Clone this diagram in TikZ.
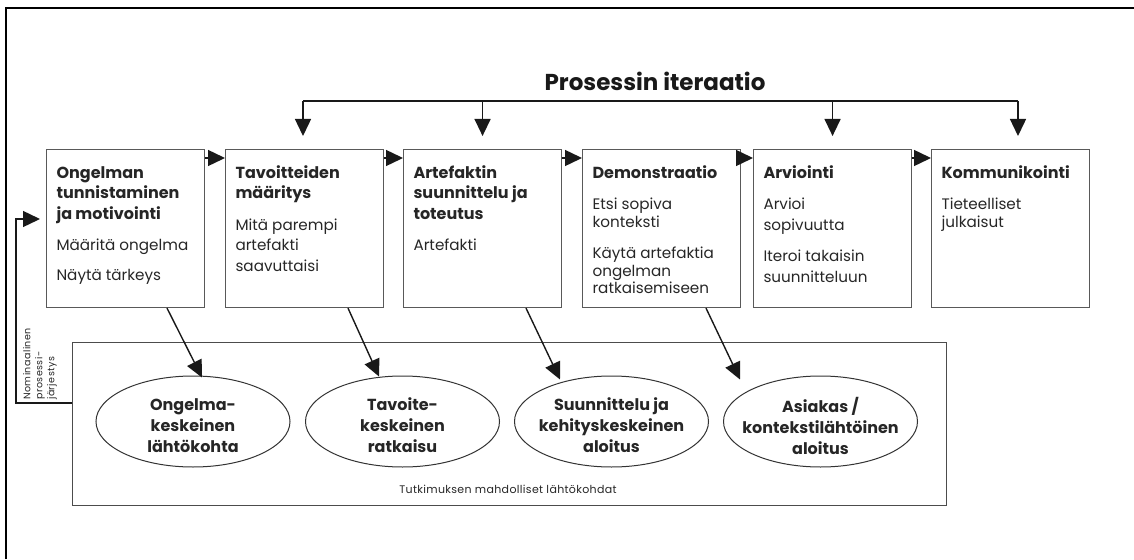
\documentclass[tikz,border=0pt]{standalone}
\usepackage{fontspec}
\setmainfont{Poppins}
\usetikzlibrary{arrows.meta,shapes.geometric,calc}
\newcommand\stgtext[1]{\parbox[t][150pt][t]{138pt}{\raggedright\rule{0pt}{24.5pt}#1}}
\newcommand\hd[1]{{\fontsize{16}{20.5}\selectfont\bfseries #1}}
\tikzset{
  stage/.style={draw=black!65, line width=1.1pt, anchor=north west, inner xsep=10pt, inner ysep=4pt,
    font=\fontsize{15.2}{20.5}\selectfont, text=black!85},
  startpt/.style={ellipse, draw=black!80, line width=1pt, minimum width=194pt, minimum height=91pt, inner sep=0pt},
  starttext/.style={align=center, inner sep=0pt, font=\fontsize{16}{21}\selectfont\bfseries, text=black!85},
  tip/.style={-{Triangle[length=17pt,width=16pt]}, line width=1.4pt, draw=black!90},
  plain/.style={line width=1.4pt, draw=black!90},
}
\begin{document}
\begin{tikzpicture}[x=1pt,y=-1pt]
\useasboundingbox (0,0) rectangle (1134,559);
% outer frame (top and left edges)
\draw[line width=1.8pt] (6,559) -- (6,8) -- (1134,8);

% title
\node[font=\fontsize{23}{26}\selectfont\bfseries, text=black!90] (title) at (655,81) {Prosessin iteraatio};

% stage boxes
\node[stage] (b1) at (46,149) {\stgtext{\hd{Ongelman\\tunnistaminen\\ja motivointi}\\[11pt]Määritä ongelma\\[9.5pt]Näytä tärkeys}};
\node[stage] (b2) at (225,149) {\stgtext{\hd{Tavoitteiden\\määritys}\\[11pt]Mitä parempi\\artefakti\\saavuttaisi}};
\node[stage] (b3) at (403,149) {\stgtext{\hd{Artefaktin\\suunnittelu ja\\toteutus}\\[11pt]Artefakti}};
\node[stage] (b4) at (582,149) {\stgtext{\hd{Demonstraatio}\\[11pt]Etsi sopiva\\[-3pt]konteksti\\[11pt]Käytä artefaktia\\[-3pt]ongelman\\[-3pt]ratkaisemiseen}};
\node[stage] (b5) at (753,149) {\stgtext{\hd{Arviointi}\\[11pt]Arvioi\\sopivuutta\\[11pt]Iteroi takaisin\\suunnitteluun}};
\node[stage] (b6) at (931,149) {\stgtext{\hd{Kommunikointi}\\[11pt]Tieteelliset\\[-2.5pt]julkaisut}};

% arrows between stages
\foreach \a/\b in {b1/b2,b2/b3,b3/b4,b4/b5,b5/b6}
  \draw[tip] ([yshift=-9pt]\a.north east) -- ([yshift=-9pt]\b.north west);

% iteration bar
\coordinate (itL) at (303,101);
\coordinate (itR) at (1018,101);
\draw[plain] (itL) -- (itR);
\draw[tip, shorten >=13pt] (itL) -- (itL |- b2.north);
\draw[tip, shorten >=13pt] (b3.north |- itL) -- (b3.north);
\draw[tip, shorten >=13pt] (b5.north |- itL) -- (b5.north);
\draw[tip, shorten >=13pt] (itR) -- (itR |- b6.north);

% starting points frame
\node[draw=black!70, line width=1.1pt, anchor=north west, minimum width=874pt, minimum height=163pt, inner sep=0pt] (frame) at (72,342) {};
\node[font=\fontsize{11}{13}\selectfont\addfontfeatures{LetterSpace=3}, text=black!85] (caption) at (508,489) {Tutkimuksen mahdolliset lähtökohdat};

% ellipses
\node[startpt] (e1) at (193,421.5) {};
\node[startpt] (e2) at (402.5,421.5) {};
\node[startpt] (e3) at (611.5,421.5) {};
\node[startpt] (e4) at (820.5,421.5) {};
\node[starttext] (t1) at ([yshift=-4pt]e1.center) {Ongelma-\\keskeinen\\lähtökohta};
\node[starttext] (t2) at ([yshift=-4pt]e2.center) {Tavoite-\\keskeinen\\ratkaisu};
\node[starttext] (t3) at ([yshift=-4pt]e3.center) {Suunnittelu ja\\kehityskeskeinen\\aloitus};
\node[starttext] (t4) at ([yshift=-4pt]e4.center) {Asiakas /\\kontekstilähtöinen\\aloitus};

% diagonal arrows
\draw[tip] ($(b1.south west)+(121,0)$) -- ($(e1.north)+(9,2)$);
\draw[tip] ($(b2.south west)+(123,0)$) -- ($(e2.north)+(-23.5,1)$);
\draw[tip] ($(b3.south west)+(123,0)$) -- ($(e3.north)+(-51.5,4)$);
\draw[tip] ($(b4.south west)+(124,0)$) -- ($(e4.north)+(-80.5,4)$);

% nominal process order loop
\coordinate (fbA) at (frame.west |- 0,403);
\coordinate (fbB) at (16,403);
\coordinate (fbC) at (16,219);
\draw[tip, shorten >=6pt] (fbA) -- (fbB) -- (fbC) -- (b1.west |- fbC);
\node[rotate=90, anchor=north west, inner sep=0pt, align=left, font=\fontsize{9.5}{12}\selectfont\addfontfeatures{LetterSpace=5}, text=black!85] (nom) at (23,400) {Nominaalinen\\prosessi-\\järjestys};
\end{tikzpicture}
\end{document}
